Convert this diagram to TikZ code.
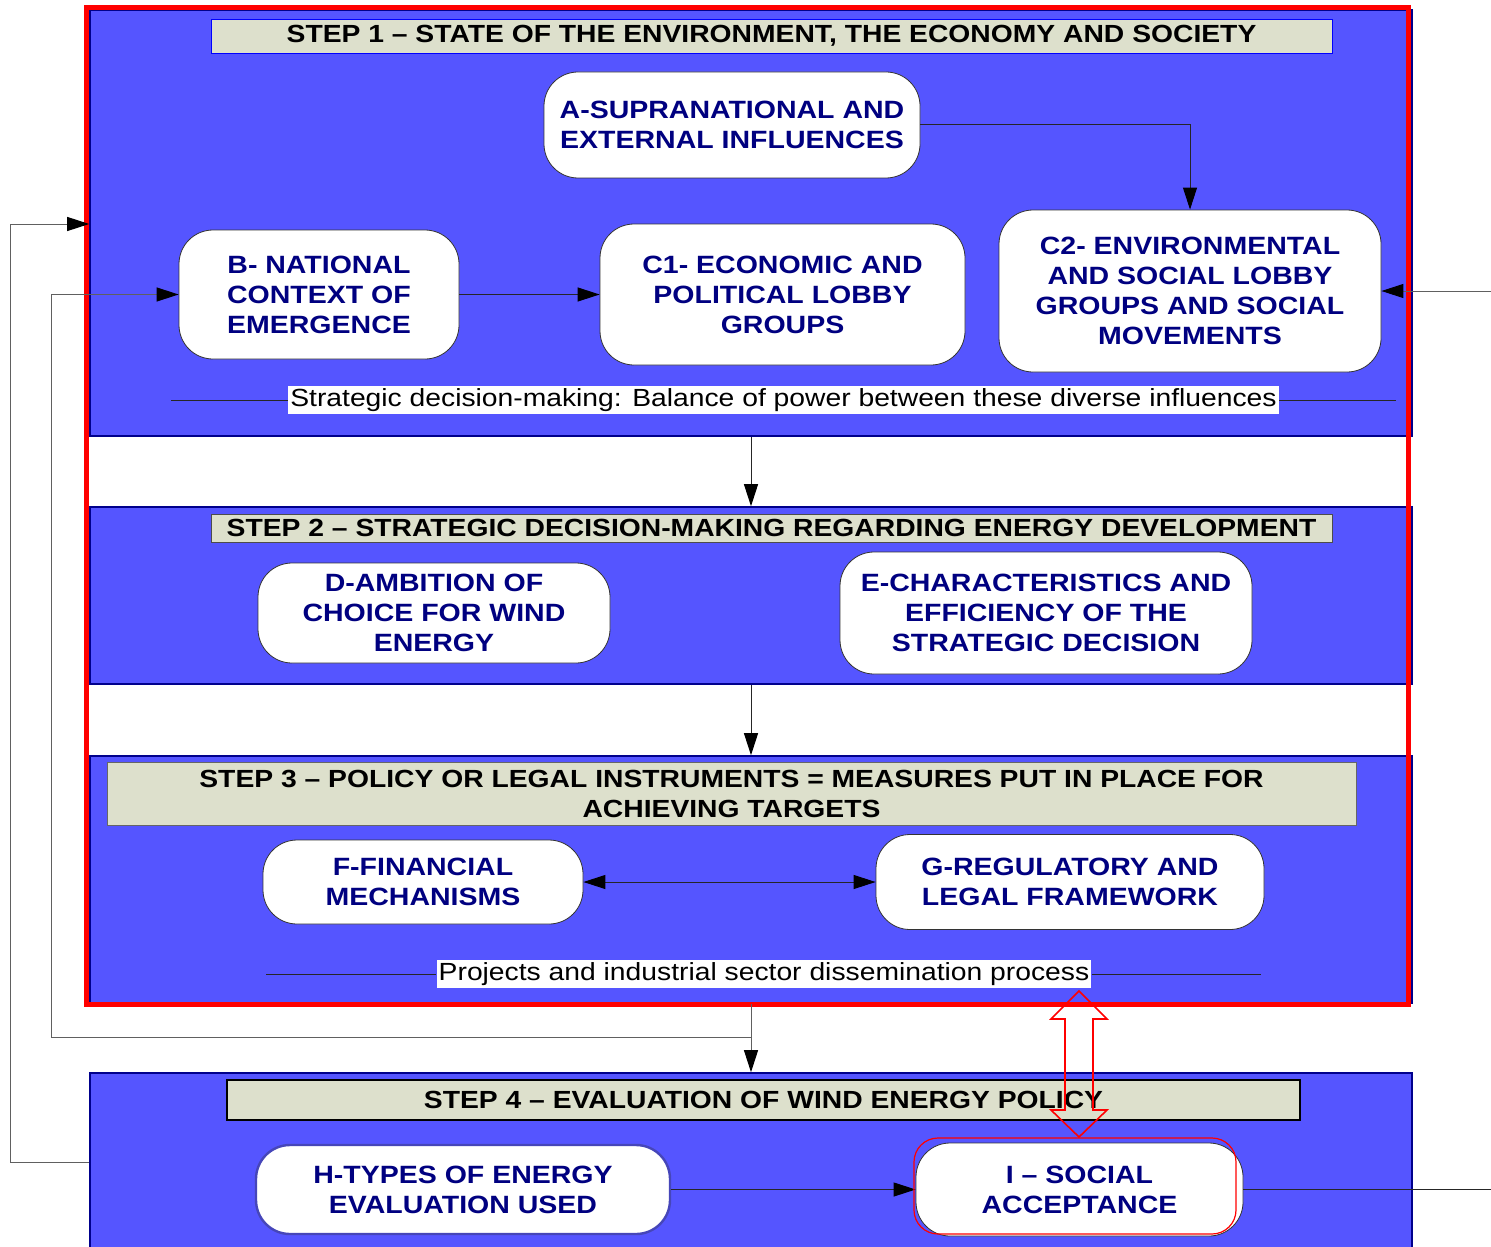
\documentclass[tikz,border=0pt]{standalone}
\usepackage{fontspec}
\setmainfont{Liberation Sans}[FakeStretch=1.14]
\usetikzlibrary{arrows.meta,positioning}

\definecolor{stepblue}{RGB}{85,85,255}
\definecolor{barfill}{RGB}{221,224,204}
\definecolor{navytext}{RGB}{0,0,128}

\begin{document}
\begin{tikzpicture}[
    x=0.5pt, y=-0.5pt,
    stepbox/.style={rectangle, draw=blue!55!black, line width=0.8pt, fill=stepblue, minimum width=661pt, inner sep=0pt},
    bar/.style={rectangle, draw=blue, fill=barfill, inner sep=0pt, align=center, font=\bfseries\fontsize{12.4}{15}\selectfont},
    block/.style={rectangle, draw=black!80, fill=white, rounded corners=17pt, align=center, inner sep=0pt, text=navytext, font=\bfseries\fontsize{12.5}{15}\selectfont},
    arrow/.style={-{Triangle[length=11pt,width=7pt,color=black]}},
    biarrow/.style={{Triangle[length=11pt,width=7pt,color=black]}-{Triangle[length=11pt,width=7pt,color=black]}},
    link/.style={black!85, line width=0.5pt},
    loopline/.style={gray!75!black, line width=0.5pt},
    note/.style={fill=white, inner sep=1pt, font=\fontsize{12.4}{14}\selectfont}
]
\useasboundingbox (0,0) rectangle (1491,1246);

% step boxes
\node[stepbox, minimum height=213pt] (step1) at (751,223) {};
\node[stepbox, minimum height=88.5pt] (step2) at (751,595.5) {};
\node[stepbox, minimum height=123.5pt] (step3) at (751,879.5) {};
\node[stepbox, minimum height=89pt] (step4) at (751,1162) {};

\draw[red, line width=2.5pt] (86,8) rectangle (1408,1004);

% title bars
\node[bar, minimum width=560.5pt, minimum height=17pt] (t1) at (771.5,36) {STEP 1 – STATE OF THE ENVIRONMENT, THE ECONOMY AND SOCIETY};
\node[bar, draw=black!70, minimum width=560.5pt, minimum height=14pt] (t2) at (771.5,528) {STEP 2 – STRATEGIC DECISION-MAKING REGARDING ENERGY DEVELOPMENT};
\node[bar, draw=black!60, minimum width=624.5pt, minimum height=31.5pt] (t3) at (731.5,793.5) {STEP 3 – POLICY OR LEGAL INSTRUMENTS = MEASURES PUT IN PLACE FOR\\ACHIEVING TARGETS};
\node[bar, draw=black, line width=1.2pt, minimum width=536.5pt, minimum height=20pt] (t4) at (763.5,1100) {STEP 4 – EVALUATION OF WIND ENERGY POLICY};

% step 1
\node[block, minimum width=188pt, minimum height=53pt] (A) at (732,125) {A-SUPRANATIONAL AND\\EXTERNAL INFLUENCES};
\node[block, minimum width=140pt, minimum height=64.5pt] (B) at (319,294.5) {B- NATIONAL\\CONTEXT OF\\EMERGENCE};
\node[block, minimum width=182.5pt, minimum height=70.5pt] (C1) at (782.5,294.5) {C1- ECONOMIC AND\\POLITICAL LOBBY\\GROUPS};
\node[block, minimum width=191pt, minimum height=81pt] (C2) at (1190,291) {C2- ENVIRONMENTAL\\AND SOCIAL LOBBY\\GROUPS AND SOCIAL\\MOVEMENTS};
\node[note] (strat) at (783.5,400) {Strategic decision-making: Balance of power between these diverse influences};
\coordinate (stratL) at (171,400);
\coordinate (stratR) at (1396,400);

% step 2
\node[block, minimum width=176pt, minimum height=50pt] (D) at (434,613) {D-AMBITION OF\\CHOICE FOR WIND\\ENERGY};
\node[block, minimum width=206pt, minimum height=61pt] (E) at (1046,613) {E-CHARACTERISTICS AND\\EFFICIENCY OF THE\\STRATEGIC DECISION};

% step 3
\node[block, minimum width=160pt, minimum height=42pt] (F) at (423,882) {F-FINANCIAL\\MECHANISMS};
\node[block, minimum width=194pt, minimum height=47.5pt] (G) at (1070,882) {G-REGULATORY AND\\LEGAL FRAMEWORK};
\node[note] (proj) at (764,974) {Projects and industrial sector dissemination process};
\coordinate (projL) at (266,974);
\coordinate (projR) at (1261,974);

% step 4
\node[block, draw=blue!45!gray, line width=1.2pt, minimum width=207pt, minimum height=44.5pt] (H) at (463,1189.5) {H-TYPES OF ENERGY\\EVALUATION USED};
\node[block, minimum width=163.5pt, minimum height=46.5pt] (I) at (1079.5,1189.5) {I – SOCIAL\\ACCEPTANCE};

% free ends
\coordinate (split) at (752,1037);
\coordinate (rightin) at (1491,291);
\coordinate (rightout) at (1491,1189.5);

% connectors
\draw[link, arrow] (A.east) -| (C2.north);
\draw[link, arrow] (B.east) -- (C1.west);
\draw[link] (stratL) -- (strat.west);
\draw[link] (strat.east) -- (stratR);
\draw[link, arrow] (step1.south) -- (step2.north);
\draw[link, arrow] (step2.south) -- (step3.north);
\draw[link, biarrow] (F.east) -- (G.west);
\draw[link] (projL) -- (proj.west);
\draw[link] (proj.east) -- (projR);
\draw[loopline, arrow] (step3.south) -- (step4.north);
\draw[loopline, arrow] (split) -- ++(-701,0) |- (B.west);
\draw[loopline, arrow] (step4.west) -- ++(-79,0) |- (step1.west |- 0,224);
\draw[loopline, arrow] (rightin) -- (C2.east);
\draw[link, arrow] (H.east) -- (I.west);
\draw[link] (I.east) -- (rightout);

% hollow double arrow and frame around I
\draw[red, line width=0.8pt] (1079,991) -- (1107,1019) -- (1093,1019) -- (1093,1110) -- (1107,1110) -- (1079,1137) -- (1051,1110) -- (1065,1110) -- (1065,1019) -- (1051,1019) -- cycle;
\draw[red, line width=0.6pt, rounded corners=12pt] (914,1138) rectangle (1236,1234);
\end{tikzpicture}
\end{document}
